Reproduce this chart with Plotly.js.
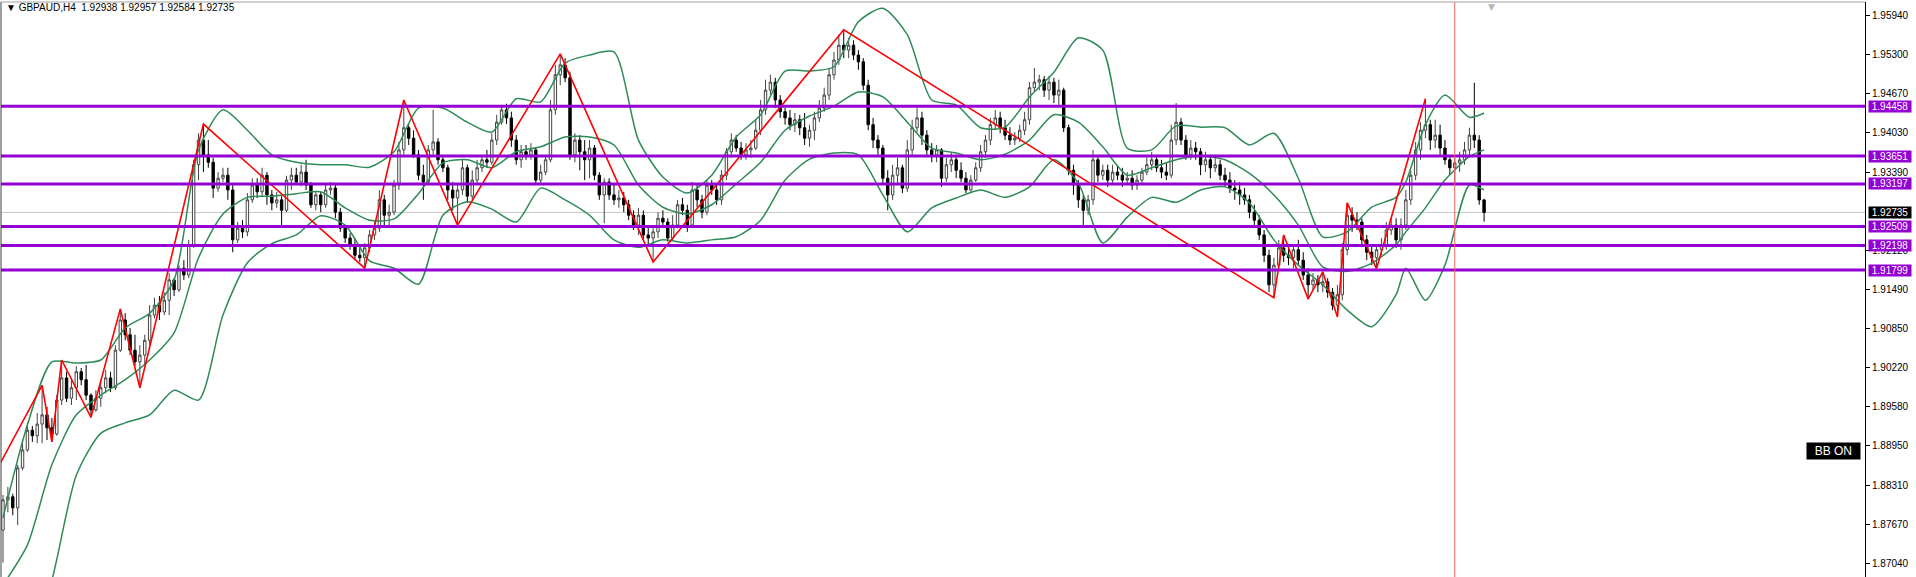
<!DOCTYPE html>
<html>
<head>
<meta charset="utf-8">
<script src="https://cdn.plot.ly/plotly-3.0.1.min.js"></script>
<style>
html,body{margin:0;padding:0;background:#fff;}
#chart{width:1916px;height:577px;}
</style>
</head>
<body>
<div id="chart"></div>
<script>
// ---------------- DATA ----------------
const symbolTitle = "\u25BC GBPAUD,H4  1.92938 1.92957 1.92584 1.92735";
const bbLabel = "BB ON";

const openP = [
1.8758,1.8807,1.8812,1.8794,1.8859,1.8888,1.8920,1.8911,1.8930,1.8945,
1.8924,1.8914,1.8969,1.9005,1.8972,1.8989,1.9015,1.9002,1.8977,1.8953,
1.8972,1.8989,1.9005,1.8989,1.9050,1.9099,1.9075,1.9050,1.9031,1.9042,
1.9066,1.9107,1.9123,1.9112,1.9131,1.9164,1.9148,1.9183,1.9172,1.9221,
1.9351,1.9391,1.9367,1.9355,1.9313,1.9329,1.9334,1.9310,1.9229,1.9248,
1.9242,1.9294,1.9318,1.9307,1.9334,1.9302,1.9289,1.9294,1.9277,1.9326,
1.9334,1.9323,1.9339,1.9318,1.9286,1.9302,1.9286,1.9310,1.9313,1.9274,
1.9248,1.9232,1.9221,1.9204,1.9200,1.9216,1.9237,1.9248,1.9294,1.9269,
1.9274,1.9318,1.9375,1.9411,1.9394,1.9367,1.9334,1.9323,1.9375,1.9388,
1.9359,1.9346,1.9310,1.9297,1.9310,1.9346,1.9300,1.9326,1.9346,1.9359,
1.9355,1.9391,1.9420,1.9440,1.9427,1.9391,1.9359,1.9372,1.9367,1.9375,
1.9326,1.9339,1.9359,1.9440,1.9497,1.9513,1.9492,1.9367,1.9391,1.9372,
1.9359,1.9378,1.9334,1.9302,1.9323,1.9302,1.9294,1.9297,1.9286,1.9269,
1.9253,1.9269,1.9237,1.9232,1.9242,1.9264,1.9258,1.9232,1.9253,1.9286,
1.9277,1.9253,1.9310,1.9294,1.9274,1.9318,1.9310,1.9294,1.9334,1.9372,
1.9391,1.9378,1.9367,1.9375,1.9378,1.9407,1.9440,1.9472,1.9485,1.9456,
1.9437,1.9427,1.9416,1.9424,1.9411,1.9394,1.9407,1.9427,1.9443,1.9464,
1.9497,1.9521,1.9545,1.9537,1.9545,1.9529,1.9518,1.9480,1.9416,1.9391,
1.9378,1.9329,1.9302,1.9334,1.9346,1.9313,1.9375,1.9411,1.9427,1.9399,
1.9375,1.9367,1.9375,1.9329,1.9351,1.9359,1.9342,1.9329,1.9310,1.9326,
1.9346,1.9372,1.9391,1.9416,1.9427,1.9411,1.9399,1.9391,1.9394,1.9407,
1.9424,1.9476,1.9485,1.9489,1.9472,1.9485,1.9464,1.9472,1.9411,1.9342,
1.9318,1.9294,1.9277,1.9294,1.9359,1.9334,1.9342,1.9326,1.9339,1.9334,
1.9326,1.9329,1.9318,1.9326,1.9339,1.9351,1.9359,1.9346,1.9339,1.9334,
1.9391,1.9420,1.9391,1.9367,1.9378,1.9372,1.9351,1.9359,1.9346,1.9351,
1.9334,1.9326,1.9313,1.9310,1.9302,1.9294,1.9274,1.9261,1.9237,1.9204,
1.9156,1.9188,1.9216,1.9204,1.9200,1.9213,1.9196,1.9172,1.9156,1.9164,
1.9156,1.9161,1.9144,1.9123,1.9140,1.9213,1.9269,1.9261,1.9258,1.9229,
1.9209,1.9200,1.9213,1.9221,1.9245,1.9253,1.9229,1.9253,1.9294,1.9334,
1.9375,1.9407,1.9416,1.9391,1.9399,1.9378,1.9359,1.9346,1.9354,1.9359,
1.9375,1.9399,1.9391,1.92938];

const highP = [
1.8815,1.8828,1.8817,1.8864,1.8904,1.8933,1.8927,1.8948,1.8993,1.8958,
1.8940,1.8977,1.9034,1.9015,1.9002,1.9024,1.9021,1.9026,1.8980,1.8985,
1.9002,1.9018,1.9015,1.9058,1.9117,1.9110,1.9086,1.9075,1.9058,1.9075,
1.9123,1.9135,1.9138,1.9144,1.9175,1.9167,1.9188,1.9196,1.9229,1.9359,
1.9402,1.9417,1.9391,1.9362,1.9339,1.9346,1.9346,1.9318,1.9258,1.9261,
1.9305,1.9329,1.9329,1.9346,1.9339,1.9310,1.9307,1.9300,1.9333,1.9346,
1.9346,1.9351,1.9359,1.9323,1.9307,1.9307,1.9318,1.9323,1.9318,1.9281,
1.9253,1.9240,1.9232,1.9221,1.9224,1.9245,1.9258,1.9310,1.9302,1.9286,
1.9326,1.9388,1.9456,1.9416,1.9407,1.9375,1.9351,1.9383,1.9440,1.9394,
1.9367,1.9351,1.9323,1.9321,1.9359,1.9351,1.9342,1.9359,1.9367,1.9375,
1.9402,1.9432,1.9448,1.9450,1.9437,1.9399,1.9383,1.9383,1.9386,1.9378,
1.9351,1.9367,1.9456,1.9513,1.9531,1.9524,1.9502,1.9402,1.9399,1.9391,
1.9391,1.9383,1.9339,1.9329,1.9329,1.9318,1.9310,1.9307,1.9294,1.9277,
1.9281,1.9277,1.9253,1.9248,1.9274,1.9277,1.9264,1.9269,1.9294,1.9297,
1.9286,1.9323,1.9318,1.9302,1.9326,1.9326,1.9321,1.9342,1.9378,1.9402,
1.9399,1.9388,1.9386,1.9391,1.9424,1.9456,1.9489,1.9497,1.9492,1.9464,
1.9443,1.9440,1.9435,1.9432,1.9435,1.9416,1.9437,1.9456,1.9476,1.9508,
1.9534,1.9562,1.9570,1.9557,1.9553,1.9537,1.9524,1.9489,1.9427,1.9399,
1.9383,1.9342,1.9351,1.9362,1.9351,1.9391,1.9424,1.9443,1.9437,1.9407,
1.9386,1.9383,1.9378,1.9362,1.9372,1.9367,1.9355,1.9339,1.9334,1.9355,
1.9383,1.9399,1.9427,1.9440,1.9437,1.9424,1.9412,1.9404,1.9416,1.9437,
1.9485,1.9508,1.9497,1.9495,1.9495,1.9492,1.9489,1.9476,1.9416,1.9351,
1.9326,1.9302,1.9302,1.9375,1.9367,1.9351,1.9351,1.9351,1.9349,1.9346,
1.9339,1.9342,1.9334,1.9346,1.9362,1.9372,1.9367,1.9359,1.9355,1.9416,
1.9451,1.9427,1.9399,1.9391,1.9388,1.9378,1.9372,1.9367,1.9362,1.9359,
1.9346,1.9339,1.9326,1.9323,1.9313,1.9302,1.9286,1.9269,1.9245,1.9213,
1.9200,1.9229,1.9237,1.9221,1.9221,1.9229,1.9209,1.9183,1.9175,1.9172,
1.9177,1.9167,1.9151,1.9156,1.9224,1.9289,1.9282,1.9274,1.9264,1.9237,
1.9221,1.9221,1.9232,1.9258,1.9264,1.9264,1.9264,1.9310,1.9342,1.9388,
1.9420,1.9458,1.9424,1.9424,1.9416,1.9391,1.9367,1.9362,1.9372,1.9388,
1.9411,1.9484,1.9399,1.92957];

const lowP = [
1.8705,1.8787,1.8782,1.8766,1.8855,1.8885,1.8901,1.8899,1.8899,1.8904,
1.8901,1.8911,1.8961,1.8966,1.8961,1.8969,1.8993,1.8969,1.8941,1.8950,
1.8958,1.8980,1.8982,1.8985,1.9047,1.9066,1.9042,1.9024,1.8989,1.9026,
1.9058,1.9102,1.9099,1.9107,1.9107,1.9138,1.9144,1.9164,1.9167,1.9216,
1.9326,1.9339,1.9346,1.9297,1.9307,1.9323,1.9294,1.9209,1.9224,1.9232,
1.9235,1.9289,1.9297,1.9300,1.9286,1.9277,1.9281,1.9253,1.9274,1.9310,
1.9318,1.9316,1.9310,1.9281,1.9277,1.9274,1.9281,1.9302,1.9264,1.9242,
1.9224,1.9213,1.9196,1.9193,1.9183,1.9209,1.9229,1.9242,1.9253,1.9253,
1.9269,1.9310,1.9367,1.9383,1.9362,1.9326,1.9294,1.9318,1.9367,1.9351,
1.9339,1.9294,1.9277,1.9253,1.9302,1.9289,1.9294,1.9318,1.9339,1.9346,
1.9351,1.9383,1.9416,1.9417,1.9380,1.9351,1.9346,1.9359,1.9359,1.9318,
1.9318,1.9334,1.9355,1.9432,1.9480,1.9485,1.9359,1.9355,1.9342,1.9326,
1.9329,1.9326,1.9294,1.9256,1.9294,1.9286,1.9281,1.9274,1.9261,1.9245,
1.9237,1.9229,1.9221,1.9193,1.9232,1.9248,1.9226,1.9229,1.9248,1.9269,
1.9242,1.9248,1.9282,1.9264,1.9269,1.9302,1.9286,1.9286,1.9326,1.9362,
1.9372,1.9359,1.9359,1.9362,1.9375,1.9399,1.9432,1.9464,1.9443,1.9427,
1.9416,1.9407,1.9404,1.9399,1.9383,1.9380,1.9391,1.9420,1.9437,1.9456,
1.9489,1.9513,1.9524,1.9524,1.9521,1.9505,1.9472,1.9407,1.9378,1.9367,
1.9318,1.9277,1.9294,1.9318,1.9305,1.9307,1.9367,1.9404,1.9383,1.9367,
1.9355,1.9355,1.9315,1.9323,1.9339,1.9329,1.9323,1.9305,1.9307,1.9323,
1.9339,1.9362,1.9383,1.9407,1.9402,1.9391,1.9383,1.9383,1.9388,1.9399,
1.9416,1.9469,1.9472,1.9461,1.9456,1.9451,1.9448,1.9404,1.9334,1.9302,
1.9281,1.9250,1.9269,1.9286,1.9323,1.9326,1.9315,1.9318,1.9326,1.9315,
1.9318,1.9310,1.9310,1.9320,1.9334,1.9342,1.9339,1.9329,1.9326,1.9329,
1.9383,1.9383,1.9359,1.9359,1.9359,1.9334,1.9339,1.9329,1.9339,1.9326,
1.9315,1.9305,1.9294,1.9286,1.9286,1.9264,1.9250,1.9229,1.9193,1.9144,
1.9135,1.9180,1.9193,1.9188,1.9183,1.9188,1.9164,1.9133,1.9148,1.9144,
1.9144,1.9135,1.9115,1.9104,1.9131,1.9204,1.9242,1.9245,1.9217,1.9196,
1.9188,1.9182,1.9204,1.9213,1.9237,1.9216,1.9213,1.9245,1.9286,1.9326,
1.9359,1.9394,1.9375,1.9378,1.9367,1.9351,1.9334,1.9318,1.9339,1.9351,
1.9367,1.9378,1.9286,1.92584];

const closeP = [
1.8807,1.8812,1.8794,1.8859,1.8888,1.8920,1.8911,1.8930,1.8945,1.8924,
1.8914,1.8969,1.9005,1.8972,1.8989,1.9015,1.9002,1.8977,1.8953,1.8972,
1.8989,1.9005,1.8989,1.9050,1.9099,1.9075,1.9050,1.9031,1.9042,1.9066,
1.9107,1.9123,1.9112,1.9131,1.9164,1.9148,1.9183,1.9172,1.9221,1.9351,
1.9391,1.9367,1.9355,1.9313,1.9329,1.9334,1.9310,1.9229,1.9248,1.9242,
1.9294,1.9318,1.9307,1.9334,1.9302,1.9289,1.9294,1.9277,1.9326,1.9334,
1.9323,1.9339,1.9318,1.9286,1.9302,1.9286,1.9310,1.9313,1.9274,1.9248,
1.9232,1.9221,1.9204,1.9200,1.9216,1.9237,1.9248,1.9294,1.9269,1.9274,
1.9318,1.9375,1.9411,1.9394,1.9367,1.9334,1.9323,1.9375,1.9388,1.9359,
1.9346,1.9310,1.9297,1.9310,1.9346,1.9300,1.9326,1.9346,1.9359,1.9355,
1.9391,1.9420,1.9440,1.9427,1.9391,1.9359,1.9372,1.9367,1.9375,1.9326,
1.9339,1.9359,1.9440,1.9497,1.9513,1.9492,1.9367,1.9391,1.9372,1.9359,
1.9378,1.9334,1.9302,1.9323,1.9302,1.9294,1.9297,1.9286,1.9269,1.9253,
1.9269,1.9237,1.9232,1.9242,1.9264,1.9258,1.9232,1.9253,1.9286,1.9277,
1.9253,1.9310,1.9294,1.9274,1.9318,1.9310,1.9294,1.9334,1.9372,1.9391,
1.9378,1.9367,1.9375,1.9378,1.9407,1.9440,1.9472,1.9485,1.9456,1.9437,
1.9427,1.9416,1.9424,1.9411,1.9394,1.9407,1.9427,1.9443,1.9464,1.9497,
1.9521,1.9545,1.9537,1.9545,1.9529,1.9518,1.9480,1.9416,1.9391,1.9378,
1.9329,1.9302,1.9334,1.9346,1.9313,1.9375,1.9411,1.9427,1.9399,1.9375,
1.9367,1.9375,1.9329,1.9351,1.9359,1.9342,1.9329,1.9310,1.9326,1.9346,
1.9372,1.9391,1.9416,1.9427,1.9411,1.9399,1.9391,1.9394,1.9407,1.9424,
1.9476,1.9485,1.9489,1.9472,1.9485,1.9464,1.9472,1.9411,1.9342,1.9318,
1.9294,1.9277,1.9294,1.9359,1.9334,1.9342,1.9326,1.9339,1.9334,1.9326,
1.9329,1.9318,1.9326,1.9339,1.9351,1.9359,1.9346,1.9339,1.9334,1.9391,
1.9420,1.9391,1.9367,1.9378,1.9372,1.9351,1.9359,1.9346,1.9351,1.9334,
1.9326,1.9313,1.9310,1.9302,1.9294,1.9274,1.9261,1.9237,1.9204,1.9156,
1.9188,1.9216,1.9204,1.9200,1.9213,1.9196,1.9172,1.9156,1.9164,1.9156,
1.9161,1.9144,1.9123,1.9140,1.9213,1.9269,1.9261,1.9258,1.9229,1.9209,
1.9200,1.9213,1.9221,1.9245,1.9253,1.9229,1.9253,1.9294,1.9334,1.9375,
1.9407,1.9416,1.9391,1.9399,1.9378,1.9359,1.9346,1.9354,1.9359,1.9375,
1.9399,1.9391,1.92938,1.92735];

// ZigZag vertices (bar index, price)
const zzBar = [-1, 8, 10, 12, 18, 24, 28, 41, 74, 82, 93, 114, 133, 172, 260, 262, 267, 270, 273, 275, 281, 291];
const zzPrice = [1.8860, 1.8993, 1.8901, 1.9034, 1.8941, 1.9117, 1.8989, 1.9417, 1.9183, 1.9456, 1.9253, 1.9531, 1.9193, 1.9570, 1.9135, 1.9237, 1.9133, 1.9177, 1.9104, 1.9289, 1.9182, 1.9458];

// Bollinger bands sampled along the bars
const bbBar = [0,5,10,15,20,25,30,35,40,45,50,55,60,65,70,75,80,85,90,95,100,105,110,115,120,125,130,135,140,145,150,155,160,165,170,175,180,185,190,195,200,205,210,215,220,225,230,235,240,245,250,255,260,265,270,275,280,285,287,291,295,300,303];
const bbUpper = [1.8778,1.8929,1.9031,1.9029,1.9034,1.9086,1.9110,1.9164,1.9375,1.9440,1.9407,1.9367,1.9355,1.9351,1.9351,1.9347,1.9372,1.9443,1.9443,1.9420,1.9404,1.9458,1.9453,1.9516,1.9529,1.9534,1.9391,1.9331,1.9305,1.9334,1.9396,1.9432,1.9503,1.9503,1.9510,1.9583,1.9605,1.9562,1.9456,1.9448,1.9411,1.9412,1.9461,1.9501,1.9557,1.9537,1.9378,1.9375,1.9414,1.9412,1.9411,1.9383,1.9402,1.9329,1.9234,1.9242,1.9282,1.9298,1.9323,1.9416,1.9464,1.9428,1.9435];
const bbMiddle = [1.8669,1.8734,1.8864,1.8945,1.8977,1.9002,1.9034,1.9078,1.9200,1.9271,1.9298,1.9300,1.9304,1.9307,1.9281,1.9261,1.9263,1.9304,1.9354,1.9359,1.9346,1.9372,1.9380,1.9396,1.9396,1.9383,1.9318,1.9282,1.9271,1.9286,1.9320,1.9355,1.9407,1.9430,1.9446,1.9469,1.9461,1.9420,1.9378,1.9370,1.9359,1.9368,1.9391,1.9432,1.9420,1.9380,1.9334,1.9346,1.9359,1.9365,1.9359,1.9337,1.9302,1.9253,1.9185,1.9178,1.9191,1.9221,1.9242,1.9281,1.9326,1.9364,1.9375];
const bbLower = [1.8433,1.8563,1.8677,1.8847,1.8915,1.8932,1.8945,1.8985,1.8969,1.9107,1.9192,1.9223,1.9237,1.9268,1.9253,1.9195,1.9183,1.9157,1.9269,1.9291,1.9279,1.9258,1.9313,1.9294,1.9269,1.9229,1.9217,1.9229,1.9224,1.9229,1.9234,1.9261,1.9326,1.9360,1.9370,1.9367,1.9302,1.9242,1.9281,1.9297,1.9310,1.9298,1.9315,1.9359,1.9321,1.9224,1.9266,1.9298,1.9290,1.9310,1.9315,1.9289,1.9229,1.9188,1.9156,1.9115,1.9088,1.9140,1.9183,1.9131,1.9188,1.9318,1.9310];

// Horizontal levels and price marks
const levelPrices = [1.94458, 1.93651, 1.93197, 1.92509, 1.92198, 1.91799];
const currentPrice = 1.92735;
const markerBar = 297;
const priceTicks = [1.87040,1.87670,1.88310,1.88950,1.89580,1.90220,1.90850,1.91490,1.92120,1.93390,1.94030,1.94670,1.95300,1.95940];

// ---------------- CHART ----------------
const bars = closeP.map((_, i) => i);
const labelFont = 'Liberation Sans, Arial, sans-serif';
const bbLine = {color:'#2e8b57', width:1.5, shape:'spline', smoothing:0.7};

const traces = [
  {type:'scatter', mode:'lines', x:bbBar, y:bbUpper, line:bbLine, hoverinfo:'skip'},
  {type:'scatter', mode:'lines', x:bbBar, y:bbMiddle, line:bbLine, hoverinfo:'skip'},
  {type:'scatter', mode:'lines', x:bbBar, y:bbLower, line:bbLine, hoverinfo:'skip'},
  {type:'candlestick', x:bars, open:openP, high:highP, low:lowP, close:closeP,
   increasing:{line:{color:'#444444', width:1}, fillcolor:'#ffffff'},
   decreasing:{line:{color:'#000000', width:1}, fillcolor:'#000000'},
   whiskerwidth:0, hoverinfo:'skip'},
  {type:'scatter', mode:'lines', x:zzBar, y:zzPrice, line:{color:'#ff0000', width:1.6}, hoverinfo:'skip'}
];

const shapes = [];
shapes.push({type:'line', xref:'paper', yref:'y', x0:0, x1:1, y0:currentPrice, y1:currentPrice, line:{color:'#c8c8c8', width:1}, layer:'below'});
levelPrices.forEach(p => shapes.push({type:'line', xref:'paper', yref:'y', x0:0, x1:1, y0:p, y1:p, line:{color:'#9400d3', width:3}, layer:'above'}));
shapes.push({type:'line', xref:'x', yref:'paper', x0:markerBar, x1:markerBar, y0:0, y1:1, line:{color:'#f06464', width:1}, layer:'above'});
shapes.push({type:'line', xref:'paper', yref:'paper', x0:0, x1:1, y0:1, y1:1, line:{color:'#a0a0a0', width:1}});
shapes.push({type:'line', xref:'paper', yref:'paper', x0:0, x1:0, y0:0, y1:1, line:{color:'#404040', width:1}});

const annotations = [];
levelPrices.forEach(p => annotations.push({
  xref:'paper', yref:'y', x:1.0016, y:p, xanchor:'left', yanchor:'middle', showarrow:false,
  text:'&nbsp;' + p.toFixed(5) + '&nbsp;', bgcolor:'#9400d3', borderpad:0, font:{family:labelFont, size:10, color:'#ffffff'}
}));
annotations.push({
  xref:'paper', yref:'y', x:1.0016, y:currentPrice, xanchor:'left', yanchor:'middle', showarrow:false,
  text:'&nbsp;' + currentPrice.toFixed(5) + '&nbsp;', bgcolor:'#000000', borderpad:0, font:{family:labelFont, size:10, color:'#ffffff'}
});
annotations.push({
  xref:'paper', yref:'paper', x:0.0016, y:0.9896, xanchor:'left', yanchor:'middle', showarrow:false,
  text:symbolTitle, font:{family:labelFont, size:10, color:'#000000'}
});
annotations.push({
  xref:'paper', yref:'paper', x:0.9979, y:0.219, xanchor:'right', yanchor:'middle', showarrow:false,
  text:'&nbsp;&nbsp;' + bbLabel + '&nbsp;&nbsp;', bgcolor:'#000000', borderpad:1, font:{family:labelFont, size:12, color:'#ffffff'}
});
annotations.push({
  xref:'paper', yref:'paper', x:0.7994, y:1.004, xanchor:'center', yanchor:'top', showarrow:false,
  text:'\u25BC', font:{family:'DejaVu Sans', size:9, color:'#b4b4b4'}
});

const layout = {
  width:1916, height:577,
  margin:{l:1, r:51, t:2, b:0, pad:0},
  paper_bgcolor:'#ffffff', plot_bgcolor:'#ffffff',
  showlegend:false,
  xaxis:{range:[-0.409, 380.93], visible:false, rangeslider:{visible:false}, fixedrange:true},
  yaxis:{range:[1.86818, 1.96151], side:'right', showgrid:false, zeroline:false,
         showline:true, linecolor:'#000000', linewidth:1, ticks:'outside', ticklen:4, tickcolor:'#000000',
         tickvals:priceTicks, tickformat:'.5f', tickfont:{family:labelFont, size:10, color:'#000000'}, fixedrange:true},
  shapes:shapes, annotations:annotations
};

Plotly.newPlot('chart', traces, layout, {staticPlot:true, displayModeBar:false});
</script>
</body>
</html>
